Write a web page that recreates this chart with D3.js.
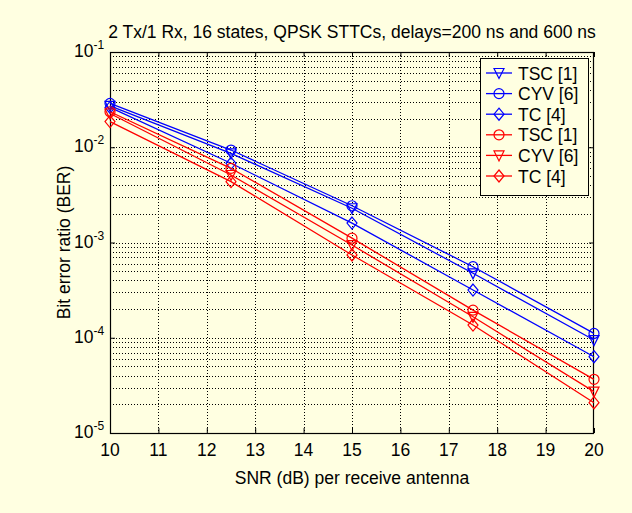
<!DOCTYPE html>
<html>
<head>
<meta charset="utf-8">
<script src="https://cdn.jsdelivr.net/npm/d3@7"></script>
<style>
  html, body { margin: 0; padding: 0; background: #ffffe1; }
  svg { display: block; font-family: "Liberation Sans", Arial, Helvetica, sans-serif; }
</style>
</head>
<body>
<svg id="chart" width="632" height="513"></svg>
<script>
// SNR points (dB)
const snr = [10, 12.5, 15, 17.5, 20];

// BER curves, delays = 200 ns (blue) and 600 ns (red)
const tsc200 = [0.0272, 0.00863, 0.00229, 0.000475, 0.0000946];
const cyv200 = [0.0289, 0.00935, 0.00243, 0.000557, 0.000111];
const tc200  = [0.0262, 0.00679, 0.00160, 0.000317, 0.0000632];
const tsc600 = [0.0236, 0.00601, 0.00111, 0.000195, 0.0000366];
const cyv600 = [0.0226, 0.00511, 0.00094, 0.000166, 0.0000272];
const tc600  = [0.0186, 0.00435, 0.00074, 0.000136, 0.0000208];

const xTicks = [10, 11, 12, 13, 14, 15, 16, 17, 18, 19, 20];
const yDecades = [-5, -4, -3, -2, -1];

const seriesNames = ["TSC [1]", "CYV [6]", "TC [4]", "TSC [1]", "CYV [6]", "TC [4]"];
const seriesColors = ["#0000ff", "#0000ff", "#0000ff", "#ff0000", "#ff0000", "#ff0000"];
const seriesMarkers = ["triangle", "circle", "diamond", "circle", "triangle", "diamond"];
const seriesValues = [tsc200, cyv200, tc200, tsc600, cyv600, tc600];

const titleText = "2 Tx/1 Rx, 16 states, QPSK STTCs, delays=200 ns and 600 ns";
const xLabelText = "SNR (dB) per receive antenna";
const yLabelText = "Bit error ratio (BER)";

const svg = d3.select("#chart");
const bg = "#ffffe1";
const fs = 17.5;

const plotL = 110, plotR = 594, plotT = 52, plotB = 433;
const x = d3.scaleLinear().domain([10, 20]).range([plotL, plotR]);
const y = d3.scaleLog().domain([1e-5, 1e-1]).range([plotB, plotT]);

svg.append("rect").attr("width", 632).attr("height", 513).attr("fill", bg);
svg.append("rect").attr("x", plotL).attr("y", plotT)
  .attr("width", plotR - plotL).attr("height", plotB - plotT).attr("fill", bg);

// dotted grid: every integer dB, every major and minor log step
const grid = svg.append("g").attr("stroke", "#000").attr("stroke-width", 1)
  .attr("stroke-dasharray", "1,2").attr("shape-rendering", "crispEdges");
xTicks.slice(1, -1).forEach(v => {
  grid.append("line").attr("x1", Math.round(x(v)) + 0.5).attr("x2", Math.round(x(v)) + 0.5)
    .attr("y1", plotT).attr("y2", plotB);
});
const yGridVals = [];
yDecades.slice(0, -1).forEach(d => {
  for (let m = 1; m <= 9; m++) yGridVals.push(m * Math.pow(10, d));
});
yGridVals.filter(v => v > 1e-5).forEach(v => {
  grid.append("line").attr("x1", plotL).attr("x2", plotR)
    .attr("y1", Math.round(y(v)) + 0.5).attr("y2", Math.round(y(v)) + 0.5);
});

// axes with inward tick marks on all four sides
const axB = d3.axisBottom(x).tickValues(xTicks).tickSize(-5).tickFormat("");
const axT = d3.axisTop(x).tickValues(xTicks).tickSize(-5).tickFormat("");
const yMajors = yDecades.map(d => Math.pow(10, d));
const axL = d3.axisLeft(y).tickValues(yMajors).tickSize(-5).tickFormat("");
const axR = d3.axisRight(y).tickValues(yMajors).tickSize(-5).tickFormat("");
function styleAxis(g) {
  g.select(".domain").remove();
  g.selectAll(".tick line").attr("stroke", "#000");
}
svg.append("g").attr("transform", `translate(0,${plotB})`).call(axB).call(styleAxis);
svg.append("g").attr("transform", `translate(0,${plotT})`).call(axT).call(styleAxis);
svg.append("g").attr("transform", `translate(${plotL},0)`).call(axL).call(styleAxis);
svg.append("g").attr("transform", `translate(${plotR},0)`).call(axR).call(styleAxis);

svg.append("rect").attr("x", plotL + 0.5).attr("y", plotT + 0.5)
  .attr("width", plotR - plotL - 1).attr("height", plotB - plotT)
  .attr("fill", "none").attr("stroke", "#000").attr("stroke-width", 1.2);

// tick labels
svg.append("g").selectAll("text").data(xTicks).join("text")
  .attr("x", d => x(d)).attr("y", 456)
  .attr("text-anchor", "middle").attr("font-size", fs).attr("fill", "#000")
  .text(d => d);

const yl = svg.append("g").selectAll("text").data(yDecades).join("text")
  .attr("x", 93).attr("y", d => y(Math.pow(10, d)) + 5)
  .attr("font-size", fs).attr("fill", "#000");
yl.append("tspan").attr("text-anchor", "start").attr("x", 74).text("10");
yl.append("tspan").attr("font-size", 12).attr("dy", -8).text(d => d);

// title and axis labels
svg.append("text").attr("x", (plotL + plotR) / 2).attr("y", 38)
  .attr("text-anchor", "middle").attr("font-size", fs).text(titleText);
svg.append("text").attr("x", (plotL + plotR) / 2).attr("y", 484)
  .attr("text-anchor", "middle").attr("font-size", fs).text(xLabelText);
svg.append("text").attr("transform", `translate(70,${(plotT + plotB) / 2}) rotate(-90)`)
  .attr("text-anchor", "middle").attr("font-size", fs).text(yLabelText);

// marker shapes
function markerPath(type) {
  if (type === "triangle") return "M-5,-4.5 L5,-4.5 L0,5.5 Z";
  if (type === "diamond") return "M0,-6 L5,0 L0,6 L-5,0 Z";
  return null;
}
function drawMarker(g, type, cx, cy, color) {
  if (type === "circle") {
    g.append("circle").attr("cx", cx).attr("cy", cy).attr("r", 5)
      .attr("fill", "none").attr("stroke", color).attr("stroke-width", 1.2);
  } else {
    g.append("path").attr("d", markerPath(type))
      .attr("transform", `translate(${cx},${cy})`)
      .attr("fill", "none").attr("stroke", color).attr("stroke-width", 1.2);
  }
}

// curves
const line = d3.line().x(d => x(d[0])).y(d => y(d[1]));
const plot = svg.append("g");
seriesValues.forEach((vals, i) => {
  const pts = snr.map((s, j) => [s, vals[j]]);
  plot.append("path").datum(pts).attr("d", line)
    .attr("fill", "none").attr("stroke", seriesColors[i]).attr("stroke-width", 1.3);
  pts.forEach(p => drawMarker(plot, seriesMarkers[i], x(p[0]), y(p[1]), seriesColors[i]));
});

// legend
const lg = svg.append("g");
lg.append("rect").attr("x", 480.5).attr("y", 58.5).attr("width", 108).attr("height", 137)
  .attr("fill", bg).attr("stroke", "#000").attr("stroke-width", 1);
seriesNames.forEach((name, i) => {
  const ry = 73 + i * 20.6;
  lg.append("line").attr("x1", 486).attr("x2", 512).attr("y1", ry).attr("y2", ry)
    .attr("stroke", seriesColors[i]).attr("stroke-width", 1.3);
  drawMarker(lg, seriesMarkers[i], 499, ry, seriesColors[i]);
  lg.append("text").attr("x", 518).attr("y", ry + 6.5).attr("font-size", fs)
    .attr("fill", "#000").text(name);
});
</script>
</body>
</html>
